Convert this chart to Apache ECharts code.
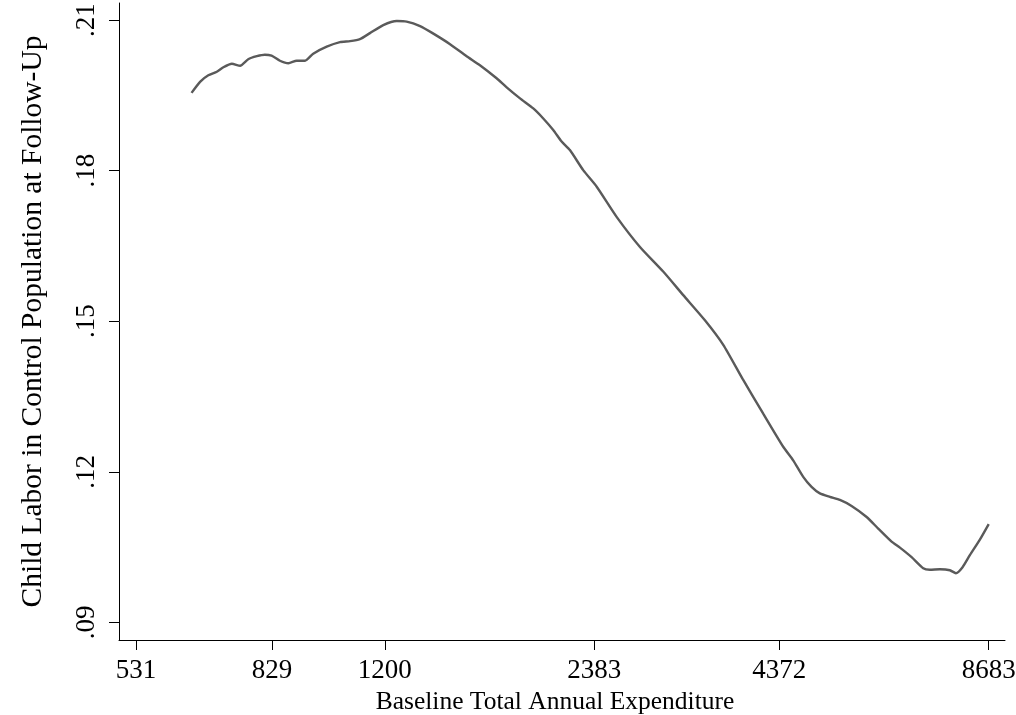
<!DOCTYPE html>
<html>
<head>
<meta charset="utf-8">
<script src="https://cdn.jsdelivr.net/npm/echarts@6/dist/echarts.min.js"></script>
<style>
html,body{margin:0;padding:0;background:#fff;}
#chart{width:1016px;height:715px;}
</style>
</head>
<body>
<div id="chart"></div>
<script>
// Baseline total annual expenditure (x, plotted on a log scale)
const expenditure = [637, 655, 673, 692, 707, 727, 747, 767, 789, 810, 828, 851, 875, 899, 924, 949, 992, 1036, 1071, 1106, 1143, 1194, 1248, 1289, 1347, 1407, 1486, 1569, 1639, 1731, 1789, 1869, 1952, 2017, 2084, 2142, 2201, 2299, 2403, 2565, 2769, 2988, 3191, 3426, 3638, 3884, 4147, 4428, 4575, 4728, 4859, 4993, 5160, 5332, 5540, 5820, 6045, 6316, 6491, 6744, 7005, 7161, 7399, 7646, 7798, 7970, 8163, 8435, 8683];
// Child labor in control population at follow-up
const childLabor = [0.1955, 0.1977, 0.1990, 0.1997, 0.2006, 0.2013, 0.2009, 0.2022, 0.2028, 0.2031, 0.2029, 0.2019, 0.2014, 0.2019, 0.2019, 0.2033, 0.2047, 0.2056, 0.2058, 0.2062, 0.2074, 0.2090, 0.2098, 0.2097, 0.2088, 0.2073, 0.2052, 0.2028, 0.2010, 0.1984, 0.1966, 0.1944, 0.1924, 0.1904, 0.1881, 0.1858, 0.1841, 0.1801, 0.1768, 0.1708, 0.1648, 0.1599, 0.1552, 0.1502, 0.1453, 0.1383, 0.1316, 0.1250, 0.1223, 0.1190, 0.1170, 0.1157, 0.1150, 0.1144, 0.1132, 0.1110, 0.1087, 0.1061, 0.1049, 0.1030, 0.1008, 0.1005, 0.1006, 0.1004, 0.0998, 0.1010, 0.1034, 0.1065, 0.1096];
// Tick labels
const xTicks = [531, 829, 1200, 2383, 4372, 8683];
const yTicks = [0.09, 0.12, 0.15, 0.18, 0.21];

const xName = 'Baseline Total Annual Expenditure';
const yName = 'Child Labor in Control Population at Follow-Up';

const FONT = "'Liberation Serif', 'DejaVu Serif', serif";
const chart = echarts.init(document.getElementById('chart'), null, {renderer: 'canvas'});
const xTickPos = xTicks.map(v => Math.log(v));

chart.setOption({
  animation: false,
  backgroundColor: '#ffffff',
  grid: {left: 119, right: 11, top: 3, bottom: 75, containLabel: false, outerBoundsMode: 'none'},
  xAxis: {
    type: 'value',
    min: 6.219,
    max: 9.1225,
    name: xName,
    nameLocation: 'middle',
    nameGap: 42,
    nameTextStyle: {fontFamily: FONT, fontSize: 25.5, color: '#000', padding: [0, 14, 0, 0]},
    axisLine: {show: true, onZero: false, lineStyle: {color: '#000', width: 1}},
    axisTick: {show: true, length: 10, customValues: xTickPos, lineStyle: {color: '#000', width: 1}},
    axisLabel: {
      customValues: xTickPos,
      margin: 17,
      fontFamily: FONT, fontSize: 27, color: '#000',
      formatter: v => String(Math.round(Math.exp(v)))
    },
    splitLine: {show: false}
  },
  yAxis: {
    type: 'value',
    min: 0.0865,
    max: 0.2134,
    name: yName,
    nameLocation: 'middle',
    nameGap: 71,
    nameRotate: 90,
    nameTextStyle: {fontFamily: FONT, fontSize: 29.5, color: '#000'},
    axisLine: {show: true, onZero: false, lineStyle: {color: '#000', width: 1}},
    axisTick: {show: true, length: 10, customValues: yTicks, lineStyle: {color: '#000', width: 1}},
    axisLabel: {
      customValues: yTicks,
      rotate: 90,
      margin: 19,
      fontFamily: FONT, fontSize: 27, color: '#000',
      formatter: v => v.toFixed(2).replace(/^0/, '')
    },
    splitLine: {show: false}
  },
  series: [{
    type: 'line',
    data: expenditure.map((e, i) => [Math.log(e), childLabor[i]]),
    showSymbol: false,
    smooth: 0.2,
    lineStyle: {color: '#5a5a5a', width: 2.4},
    silent: true
  }]
});
</script>
</body>
</html>
